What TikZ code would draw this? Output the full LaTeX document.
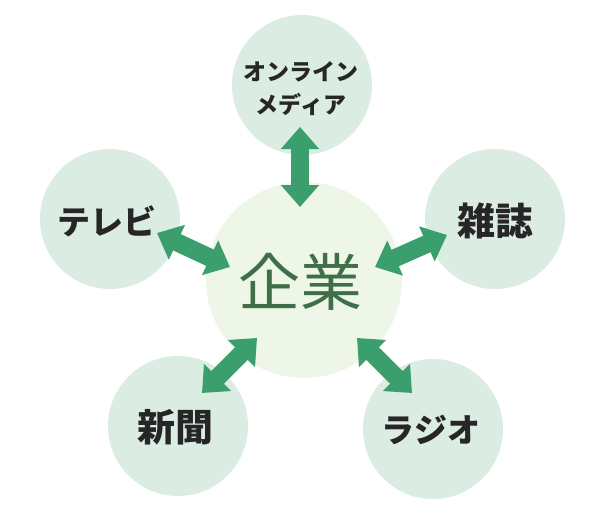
\documentclass[tikz,border=0pt]{standalone}
\usepackage{fontspec}
\newfontfamily\jp{Noto Sans CJK JP}
\usetikzlibrary{arrows.meta,calc}
\definecolor{satfill}{HTML}{DBECE3}
\definecolor{cenfill}{HTML}{EEF7E7}
\definecolor{arrowgreen}{HTML}{3A9E6D}
\definecolor{kigyo}{HTML}{3F6E48}
\definecolor{labeltext}{HTML}{262626}
\tikzset{
  sat/.style={circle, fill=satfill, minimum size=140pt, inner sep=0pt, text=labeltext, font=\jp\bfseries, align=center},
  cen/.style={circle, fill=cenfill, minimum size=196pt, inner sep=0pt, text=kigyo, font=\jp\fontsize{62pt}{70pt}\selectfont},
  biarrow/.style={line width=18pt, draw=arrowgreen, {Triangle[length=22pt,width=37pt]}-{Triangle[length=22pt,width=37pt]}}
}
\begin{document}
\begin{tikzpicture}[x=1pt,y=-1pt]
\useasboundingbox[fill=white] (0,0) rectangle (613,511);
\node[cen] (c) at (304,280) {};
\node[sat] (top) at (302,85) {};
\node[sat] (tv) at (110,219) {};
\node[sat] (mag) at (495,219) {};
\node[sat] (news) at (178,426) {};
\node[sat] (radio) at (433,429) {};
% arrow tip points
\coordinate (t1) at ($(top)+(-2,42)$);
\coordinate (t2) at ($(c)+(-4,-73)$);
\coordinate (l1) at ($(tv)+(47,14)$);
\coordinate (l2) at ($(c)+(-74,-13)$);
\coordinate (r1) at ($(mag)+(-48,16)$);
\coordinate (r2) at ($(c)+(71,-13)$);
\coordinate (bl1) at ($(news)+(24,-33)$);
\coordinate (bl2) at ($(c)+(-47,58)$);
\coordinate (br1) at ($(radio)+(-21,-36)$);
\coordinate (br2) at ($(c)+(53,58)$);
\draw[biarrow] (t1) -- (t2);
\draw[biarrow] (l1) -- (l2);
\draw[biarrow] (r1) -- (r2);
\draw[biarrow] (bl2) -- (bl1);
\draw[biarrow] (br2) -- (br1);
% labels
\node[text=kigyo, font=\jp\fontsize{62pt}{70pt}\selectfont] (ct) at (300,282) {企業};
\node[sat, fill=none, font=\jp\bfseries\fontsize{23pt}{33pt}\selectfont] (topt) at (301,89) {オンライン\\メディア};
\node[sat, fill=none, font=\jp\bfseries\fontsize{33pt}{36pt}\selectfont] (tvt) at (107,221) {テレビ};
\node[sat, fill=none, font=\jp\bfseries\fontsize{38pt}{40pt}\selectfont] (magt) at (495,221) {雑誌};
\node[sat, fill=none, font=\jp\bfseries\fontsize{38pt}{40pt}\selectfont] (newst) at (175,427) {新聞};
\node[sat, fill=none, font=\jp\bfseries\fontsize{33pt}{36pt}\selectfont] (radiot) at (431,430) {ラジオ};
\end{tikzpicture}
\end{document}
